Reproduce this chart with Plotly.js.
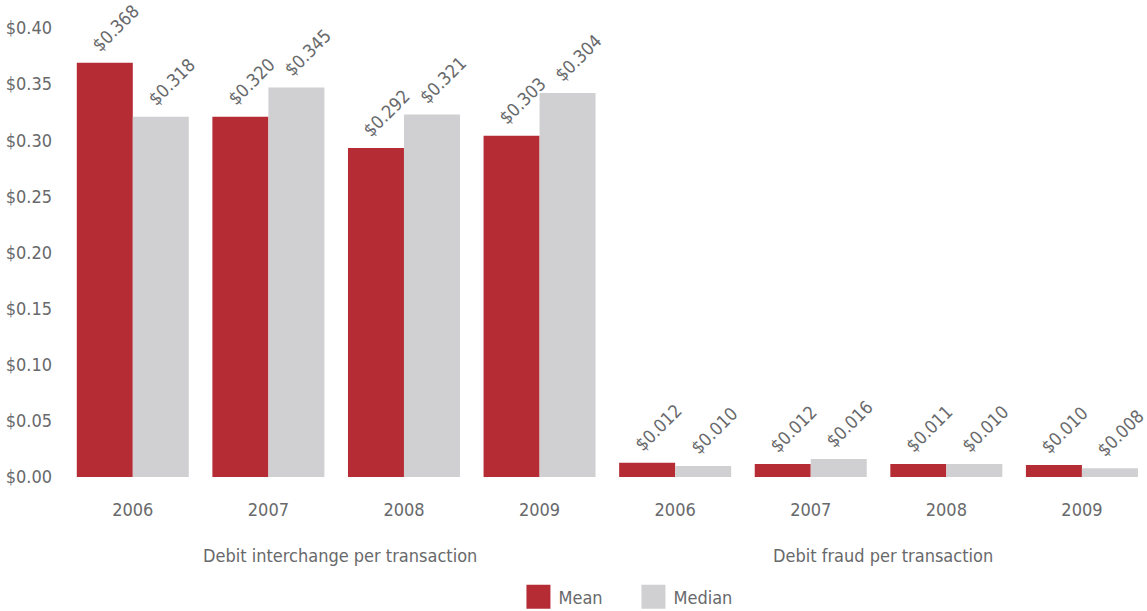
<!DOCTYPE html>
<html>
<head>
<meta charset="utf-8">
<script src="https://cdn.plot.ly/plotly-3.0.1.min.js"></script>
<style>
html,body{margin:0;padding:0;background:#fff;}
#chart{width:1147px;height:611px;}
</style>
</head>
<body>
<div id="chart"></div>
<script>
// ---- data ----
var years = ["2006", "2007", "2008", "2009", "2006", "2007", "2008", "2009"];
var groupLabels = ["Debit interchange per transaction", "Debit fraud per transaction"];
var seriesNames = ["Mean", "Median"];
// bar heights as drawn in the picture
var meanValues   = [0.369, 0.321, 0.293, 0.304, 0.0126, 0.0116, 0.0116, 0.0107];
var medianValues = [0.321, 0.347, 0.323, 0.342, 0.0098, 0.0161, 0.0116, 0.0079];
// printed value labels
var meanLabels   = ["$0.368", "$0.320", "$0.292", "$0.303", "$0.012", "$0.012", "$0.011", "$0.010"];
var medianLabels = ["$0.318", "$0.345", "$0.321", "$0.304", "$0.010", "$0.016", "$0.010", "$0.008"];
var yTickVals = [0, 0.05, 0.10, 0.15, 0.20, 0.25, 0.30, 0.35, 0.40];
var yTickText = ["$0.00", "$0.05", "$0.10", "$0.15", "$0.20", "$0.25", "$0.30", "$0.35", "$0.40"];

// ---- styles ----
var FONT = "'Liberation Sans Narrow', 'Arial Narrow', 'DejaVu Sans Condensed', 'Roboto Condensed', sans-serif";
var TXT = "#68696b";
var RED = "#b52c35";
var GRAY = "#d0d0d2";
var BARGAP = 0.174;
var FS = 18;

var xIdx = years.map(function (_, i) { return i; });
var half = (1 - BARGAP) / 4; // offset of each bar center from category center

var data = [
  { type: "bar", name: seriesNames[0], x: xIdx, y: meanValues, marker: { color: RED }, hoverinfo: "skip" },
  { type: "bar", name: seriesNames[1], x: xIdx, y: medianValues, marker: { color: GRAY }, hoverinfo: "skip" }
];

var annotations = [];
function addLabels(vals, labels, dx) {
  vals.forEach(function (v, i) {
    annotations.push({
      x: i + dx, y: v, xref: "x", yref: "y",
      text: labels[i], showarrow: false, textangle: -45,
      xanchor: "center", yanchor: "bottom", xshift: 11, yshift: 5,
      font: { family: FONT, size: FS, color: TXT }
    });
  });
}
addLabels(meanValues, meanLabels, -half);
addLabels(medianValues, medianLabels, half);

groupLabels.forEach(function (g, k) {
  annotations.push({
    x: 1.5 + 4 * k, y: 0, xref: "x", yref: "paper",
    yanchor: "middle", yshift: -78, xshift: 4,
    text: g, showarrow: false,
    font: { family: FONT, size: FS, color: TXT }
  });
});

var layout = {
  width: 1147, height: 611,
  margin: { l: 65, r: 0, t: 28, b: 134, pad: 0 },
  paper_bgcolor: "#fff", plot_bgcolor: "#fff",
  barmode: "group", bargap: BARGAP, bargroupgap: 0,
  font: { family: FONT, size: FS, color: TXT },
  xaxis: {
    range: [-0.5, 7.48], tickmode: "array", tickvals: xIdx, ticktext: years,
    showgrid: false, zeroline: false, showline: false, ticks: "",
    tickfont: { family: FONT, size: FS, color: TXT }, ticklabelstandoff: 20
  },
  yaxis: {
    range: [0, 0.40], tickmode: "array", tickvals: yTickVals, ticktext: yTickText,
    showgrid: false, zeroline: false, showline: false, ticks: "",
    tickfont: { family: FONT, size: FS, color: TXT }, ticklabelstandoff: 12
  },
  showlegend: true,
  legend: {
    orientation: "h", xref: "container", yref: "container",
    x: 0.452, xanchor: "left", y: 0.0229, yanchor: "middle",
    entrywidth: 70, entrywidthmode: "pixels",
    font: { family: FONT, size: FS, color: TXT }, bgcolor: "rgba(0,0,0,0)"
  },
  annotations: annotations
};

Plotly.newPlot("chart", data, layout, { staticPlot: true, displayModeBar: false }).then(function (gd) {
  gd.querySelectorAll(".legend .legendpoints path").forEach(function (p) {
    p.setAttribute("d", "M12,12H-12V-12H12Z");
  });
});
</script>
</body>
</html>
